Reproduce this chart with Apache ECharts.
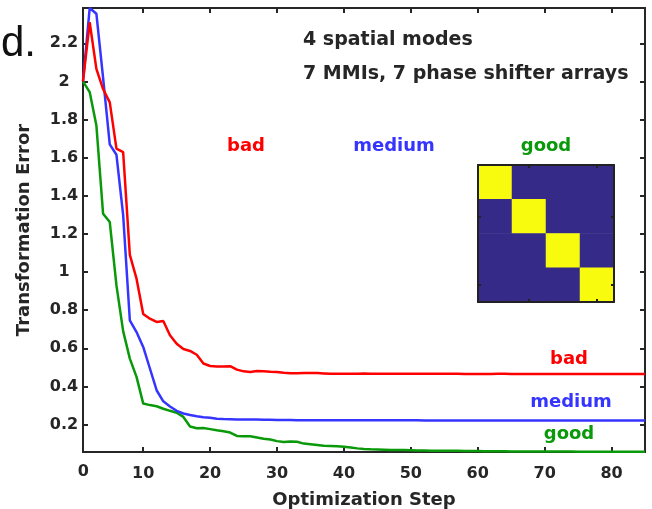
<!DOCTYPE html>
<html>
<head>
<meta charset="utf-8">
<script src="https://cdn.jsdelivr.net/npm/echarts@6/dist/echarts.min.js"></script>
<style>html,body{margin:0;padding:0;background:#fff}#c{width:652px;height:509px}</style>
</head>
<body>
<div id="c"></div>
<script>
// ---- data ----
const stepCount = 85;
const steps = Array.from({length: stepCount}, (_, i) => i + 1);
const badValues = [2.0,2.31,2.066,1.96,1.89,1.647,1.629,1.09,0.965,0.78,
  0.755,0.738,0.743,0.668,0.624,0.596,0.586,0.566,0.52,0.507,
  0.505,0.505,0.506,0.488,0.479,0.476,0.481,0.479,0.477,0.476,
  0.472,0.469,0.469,0.47,0.47,0.47,0.468,0.466,0.466,0.467,
  0.467,0.467,0.468,0.467,0.467,0.467,0.466,0.466,0.466,0.466,
  0.466,0.466,0.466,0.466,0.466,0.466,0.466,0.465,0.465,0.465,
  0.465,0.465,0.466,0.466,0.465,0.465,0.465,0.465,0.465,0.465,
  0.465,0.465,0.465,0.465,0.465,0.465,0.465,0.465,0.465,0.465,
  0.465,0.465,0.465,0.465,0.465];
const mediumValues = [2.0,2.385,2.355,2.02,1.67,1.615,1.30,0.747,0.685,0.607,
  0.494,0.38,0.322,0.295,0.272,0.258,0.25,0.243,0.238,0.236,
  0.231,0.229,0.228,0.227,0.227,0.226,0.226,0.225,0.225,0.224,
  0.224,0.224,0.223,0.223,0.223,0.223,0.222,0.222,0.222,0.222,
  0.222,0.222,0.222,0.222,0.222,0.222,0.222,0.222,0.222,0.222,
  0.222,0.221,0.221,0.221,0.221,0.221,0.221,0.221,0.221,0.221,
  0.221,0.221,0.221,0.221,0.221,0.221,0.221,0.221,0.221,0.221,
  0.221,0.221,0.221,0.221,0.221,0.221,0.221,0.221,0.221,0.221,
  0.221,0.221,0.221,0.221,0.221];
const goodValues = [2.0,1.944,1.769,1.306,1.262,0.93,0.69,0.546,0.45,0.31,
  0.302,0.296,0.283,0.272,0.262,0.24,0.19,0.181,0.182,0.176,
  0.17,0.165,0.158,0.14,0.139,0.139,0.132,0.125,0.122,0.113,
  0.108,0.111,0.11,0.1,0.097,0.093,0.089,0.088,0.086,0.083,
  0.079,0.075,0.072,0.07,0.069,0.068,0.067,0.066,0.066,0.065,
  0.064,0.064,0.063,0.063,0.062,0.062,0.062,0.061,0.061,0.061,
  0.06,0.06,0.06,0.06,0.059,0.059,0.059,0.059,0.058,0.058,
  0.058,0.058,0.058,0.058,0.057,0.057,0.057,0.057,0.057,0.057,
  0.057,0.057,0.057,0.057,0.057];
const xTickValues = [0,10,20,30,40,50,60,70,80];
const yTickValues = [0.2,0.4,0.6,0.8,1,1.2,1.4,1.6,1.8,2,2.2];
const xRange = [1, 85];
const yRange = [0.056, 2.385];
const insetCats = ['1','2','3','4'];
const insetMatrix = [[1,0,0,0],[0,1,0,0],[0,0,1,0],[0,0,0,1]];
const seriesNames = ['bad','medium','good'];
const titleLines = ['4 spatial modes','7 MMIs, 7 phase shifter arrays'];
const panelLetter = 'd.';
const xName = 'Optimization Step';
const yName = 'Transformation Error';

// ---- styles ----
const C = {bad:'#ff0000', medium:'#3535ff', good:'#0a990a', axis:'#262626',
  navy:'#352a87', yellow:'#f9fb0e'};
const FONT = 'DejaVu Sans';
const G = {left: 83, right: 7, top: 8, bottom: 57, W: 652};
const lab = () => ({fontFamily: FONT, fontWeight: 'bold', fontSize: 16, color: C.axis});
const inTicks = x => x.filter(v => v >= xRange[0] && v <= xRange[1]);
const axLine = () => ({show: true, onZero: false, lineStyle: {color: C.axis, width: 2}});
const tick = (vals) => ({show: true, inside: true, length: 5, customValues: vals,
  lineStyle: {color: C.axis, width: 2}});

const heatData = [];
insetMatrix.forEach((row, r) => row.forEach((v, c) => heatData.push({value: [c, r, v],
  itemStyle: {color: v > 0.5 ? C.yellow : C.navy}})));
const insetTick = () => ({show: true, inside: true, length: 3, alignWithLabel: true,
  interval: (i) => i % 2 === 1, lineStyle: {color: '#222', width: 2}});
const insetLine = () => ({show: true, lineStyle: {color: '#222', width: 2}});

const txt = (text, x, y, color, size, align, family, weight) => ({
  type: 'text', x: x, y: y, z: 20,
  style: {text: String(text), fill: color, font: (weight || 'bold') + ' ' + size + 'px "' + (family || FONT) + '"',
    textAlign: align || 'left', textVerticalAlign: 'middle'}
});
// the "0" tick label sits just left of the axis range (axis starts at step 1)
const plotW = G.W - G.left - G.right;
const zeroX = G.left + (xTickValues[0] - xRange[0]) / (xRange[1] - xRange[0]) * plotW;

const chart = echarts.init(document.getElementById('c'), null, {renderer: 'canvas'});
chart.setOption({
  animation: false,
  grid: [
    {left: G.left, right: G.right, top: G.top, bottom: G.bottom, outerBoundsMode: 'none',
     show: true, borderColor: C.axis, borderWidth: 2, backgroundColor: 'transparent'},
    {left: 478, top: 165, width: 136, height: 137, outerBoundsMode: 'none'}
  ],
  xAxis: [
    {gridIndex: 0, type: 'value', min: xRange[0], max: xRange[1], position: 'bottom',
     axisLine: axLine(), axisTick: tick(inTicks(xTickValues)),
     axisLabel: Object.assign({customValues: inTicks(xTickValues), margin: 14}, lab()),
     splitLine: {show: false},
     name: xName, nameLocation: 'middle', nameGap: 39,
     nameTextStyle: {fontFamily: FONT, fontWeight: 'bold', fontSize: 18, color: C.axis}},
    {gridIndex: 0, type: 'value', min: xRange[0], max: xRange[1], position: 'top',
     axisLine: axLine(), axisTick: tick(inTicks(xTickValues)),
     axisLabel: {show: false}, splitLine: {show: false}},
    {gridIndex: 1, type: 'category', data: insetCats, position: 'bottom',
     axisLine: insetLine(), axisTick: insetTick(), axisLabel: {show: false}, z: 5},
    {gridIndex: 1, type: 'category', data: insetCats, position: 'top',
     axisLine: insetLine(), axisTick: insetTick(), axisLabel: {show: false}, z: 5}
  ],
  yAxis: [
    {gridIndex: 0, type: 'value', min: yRange[0], max: yRange[1], position: 'left',
     axisLine: axLine(), axisTick: tick(yTickValues),
     axisLabel: Object.assign({customValues: yTickValues, margin: 19, align: 'center'}, lab()),
     splitLine: {show: false},
     name: yName, nameLocation: 'middle', nameGap: 50, nameRotate: 90,
     nameTextStyle: {fontFamily: FONT, fontWeight: 'bold', fontSize: 18, color: C.axis}},
    {gridIndex: 0, type: 'value', min: yRange[0], max: yRange[1], position: 'right',
     axisLine: axLine(), axisTick: tick(yTickValues),
     axisLabel: {show: false}, splitLine: {show: false}},
    {gridIndex: 1, type: 'category', data: insetCats, position: 'left', inverse: true,
     axisLine: insetLine(), axisTick: insetTick(), axisLabel: {show: false}, z: 5},
    {gridIndex: 1, type: 'category', data: insetCats, position: 'right', inverse: true,
     axisLine: insetLine(), axisTick: insetTick(), axisLabel: {show: false}, z: 5}
  ],
  series: [
    {name: seriesNames[2], type: 'line', xAxisIndex: 0, yAxisIndex: 0, showSymbol: false,
     data: steps.map((s, i) => [s, goodValues[i]]), lineStyle: {color: C.good, width: 2.5},
     itemStyle: {color: C.good}},
    {name: seriesNames[1], type: 'line', xAxisIndex: 0, yAxisIndex: 0, showSymbol: false,
     data: steps.map((s, i) => [s, mediumValues[i]]), lineStyle: {color: C.medium, width: 2.5},
     itemStyle: {color: C.medium}},
    {name: seriesNames[0], type: 'line', xAxisIndex: 0, yAxisIndex: 0, showSymbol: false,
     data: steps.map((s, i) => [s, badValues[i]]), lineStyle: {color: C.bad, width: 2.5},
     itemStyle: {color: C.bad}},
    {type: 'heatmap', xAxisIndex: 2, yAxisIndex: 2, data: heatData, z: 1}
  ],
  graphic: [
    txt(xTickValues[0], zeroX + 7, 472, C.axis, 16, 'center'),
    txt(panelLetter, 1, 44, '#111', 42, 'left', 'Liberation Sans', 'normal'),
    txt(titleLines[0], 303, 40, C.axis, 19, 'left'),
    txt(titleLines[1], 303, 74, C.axis, 19, 'left'),
    txt(seriesNames[0], 246, 146, C.bad, 18, 'center'),
    txt(seriesNames[1], 394, 146, C.medium, 18, 'center'),
    txt(seriesNames[2], 546, 146, C.good, 18, 'center'),
    txt(seriesNames[0], 569, 359, C.bad, 18, 'center'),
    txt(seriesNames[1], 571, 402, C.medium, 18, 'center'),
    txt(seriesNames[2], 569, 434, C.good, 18, 'center')
  ]
});
</script>
</body>
</html>
